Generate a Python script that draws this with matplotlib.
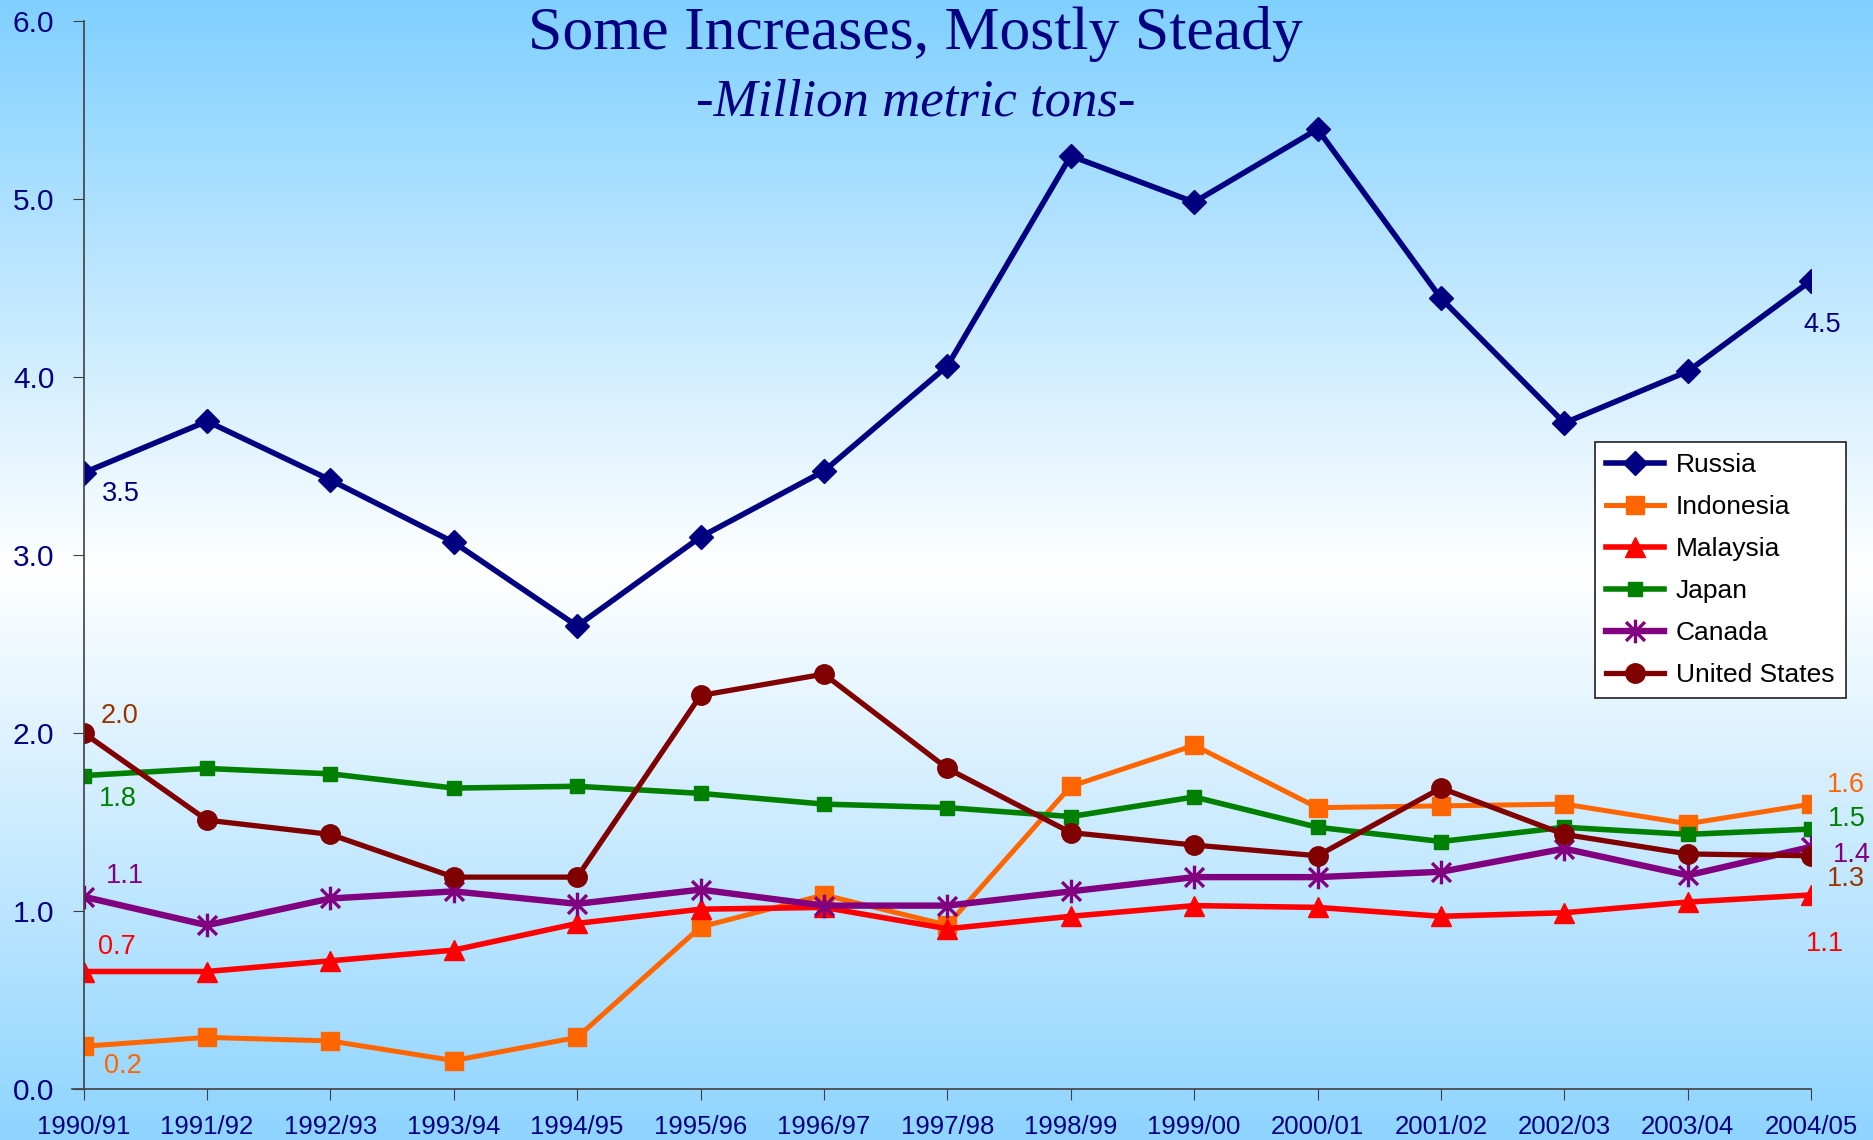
import numpy as np
import matplotlib.pyplot as plt
from matplotlib.path import Path
from matplotlib.colors import LinearSegmentedColormap

seasons = ['1990/91', '1991/92', '1992/93', '1993/94', '1994/95', '1995/96',
           '1996/97', '1997/98', '1998/99', '1999/00', '2000/01', '2001/02',
           '2002/03', '2003/04', '2004/05']

russia = [3.46, 3.75, 3.42, 3.07, 2.60, 3.10, 3.47, 4.06, 5.24, 4.98, 5.39, 4.44, 3.74, 4.03, 4.54]
indonesia = [0.24, 0.29, 0.27, 0.16, 0.29, 0.91, 1.09, 0.92, 1.70, 1.93, 1.58, 1.59, 1.60, 1.49, 1.60]
malaysia = [0.66, 0.66, 0.72, 0.78, 0.93, 1.01, 1.02, 0.90, 0.97, 1.03, 1.02, 0.97, 0.99, 1.05, 1.09]
japan = [1.76, 1.80, 1.77, 1.69, 1.70, 1.66, 1.60, 1.58, 1.53, 1.64, 1.47, 1.39, 1.47, 1.43, 1.46]
canada = [1.08, 0.92, 1.07, 1.11, 1.04, 1.12, 1.03, 1.03, 1.11, 1.19, 1.19, 1.22, 1.35, 1.20, 1.36]
united_states = [2.00, 1.51, 1.43, 1.19, 1.19, 2.21, 2.33, 1.80, 1.44, 1.37, 1.31, 1.69, 1.43, 1.32, 1.31]

# Excel style asterisk: vertical bar plus an X
star = Path([(0, -1), (0, 1), (-0.8, -0.8), (0.8, 0.8), (-0.8, 0.8), (0.8, -0.8)],
            [Path.MOVETO, Path.LINETO] * 3)

fig = plt.figure(figsize=(18.73, 11.40), dpi=100)

# blue - white - blue background gradient over the whole figure
bg = fig.add_axes([0, 0, 1, 1], zorder=-10)
cmap = LinearSegmentedColormap.from_list('bg', ['#80d0ff', '#ffffff', '#8ed4ff'])
bg.imshow(np.linspace(0, 1, 256).reshape(-1, 1), aspect='auto', cmap=cmap,
          extent=[0, 1, 0, 1], origin='upper')
bg.axis('off')

ax = fig.add_axes([0.0446, 0.0447, 0.967 - 0.0446, 0.982 - 0.0447])
ax.patch.set_alpha(0)

x = np.arange(len(seasons))
series = [
    ('Russia', russia, '#000080', dict(marker='D', ms=12), 4.0),
    ('Indonesia', indonesia, '#ff6600', dict(marker='s', ms=13), 3.6),
    ('Malaysia', malaysia, '#ff0000', dict(marker='^', ms=14), 4.0),
    ('Japan', japan, '#008000', dict(marker='s', ms=10), 4.0),
    ('Canada', canada, '#800080', dict(marker=star, ms=17, mew=2.4), 4.6),
    ('United States', united_states, '#800000', dict(marker='o', ms=14), 3.8),
]

for name, vals, col, mk, lw in series:
    ax.plot(x, vals, color=col, lw=lw, mfc=col, mec=col, label=name, **mk)

# value labels at both ends (offsets in points)
ends = [
    (russia, '#000080', (27, -15), (8, -32)),
    (indonesia, '#ff6600', (28, -14), (25, 14)),
    (malaysia, '#ff0000', (24, 18), (10, -35)),
    (japan, '#008000', (25, -17), (26, 7)),
    (canada, '#800080', (30, 15), (29, -6)),
    (united_states, '#993300', (26, 12), (25, -17)),
]
for vals, col, off0, off1 in ends:
    ax.annotate(f'{vals[0]:.1f}', (x[0], vals[0]), xytext=off0, textcoords='offset points',
                ha='center', va='center', color=col, fontsize=19.5, family='Liberation Sans')
    ax.annotate(f'{vals[-1]:.1f}', (x[-1], vals[-1]), xytext=off1, textcoords='offset points',
                ha='center', va='center', color=col, fontsize=19.5, family='Liberation Sans')

ax.set_xlim(0, len(seasons) - 1)
ax.set_ylim(0, 6)
ax.set_yticks(np.arange(0, 6.1, 1.0))
ax.set_yticklabels([f'{v:.1f}' for v in np.arange(0, 6.1, 1.0)])
ax.set_xticks(x)
ax.set_xticklabels(seasons)
for s in ['top', 'right']:
    ax.spines[s].set_visible(False)
for s in ['left', 'bottom']:
    ax.spines[s].set_color('#404040')
    ax.spines[s].set_linewidth(1.2)
ax.spines['bottom'].set_bounds(-0.09, len(seasons) - 1)
ax.tick_params(axis='y', direction='out', length=8, color='#404040', pad=13,
               labelsize=21.5, labelcolor='#000080')
ax.tick_params(axis='x', direction='out', length=8, color='#404040', pad=11,
               labelsize=18.5, labelcolor='#000080')
for t in ax.get_xticklabels() + ax.get_yticklabels():
    t.set_family('Liberation Sans')

fig.text(0.489, 0.957, 'Some Increases, Mostly Steady', ha='center', va='baseline',
         fontsize=44.5, color='#000080', family='Liberation Serif')
fig.text(0.489, 0.899, '-Million metric tons-', ha='center', va='baseline',
         fontsize=38, color='#000080', family='Liberation Serif', style='italic')

leg = ax.legend(loc='upper left', bbox_to_anchor=(0.8516, 0.6123), bbox_transform=fig.transFigure,
                fancybox=False, framealpha=1, edgecolor='#202020',
                prop={'family': 'Liberation Sans', 'size': 19}, handlelength=2.2,
                labelspacing=0.68, borderpad=0.42, handletextpad=0.45, borderaxespad=0)
leg.get_frame().set_linewidth(1.2)

fig.savefig('out.png', dpi=100)
